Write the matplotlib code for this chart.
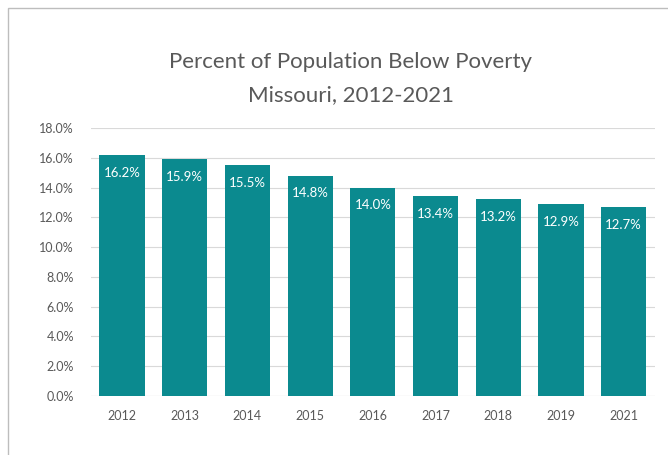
import matplotlib
matplotlib.use("Agg")
import matplotlib.pyplot as plt
from matplotlib.patches import Rectangle
from matplotlib.ticker import FuncFormatter

years = ["2012", "2013", "2014", "2015", "2016", "2017", "2018", "2019", "2021"]
values = [16.2, 15.9, 15.5, 14.8, 14.0, 13.4, 13.2, 12.9, 12.7]
yticks = [0, 2, 4, 6, 8, 10, 12, 14, 16, 18]

W, H = 668, 455
fig = plt.figure(figsize=(W / 100, H / 100), dpi=100)
plt.rcParams['font.family'] = ['Lato', 'DejaVu Sans']

# outer frame
fig.patches.append(Rectangle((8 / W, -0.1), 1.2, 1 - 8 / H + 0.1, transform=fig.transFigure,
                             fill=False, edgecolor='#BDBDBD', linewidth=1.0))

left, right = 90.6 / W, 655 / W
bottom, top = 1 - 396 / H, 1 - 128 / H
ax = fig.add_axes([left, bottom, right - left, top - bottom])

color = '#0B8A8F'
x = range(len(years))
bars = ax.bar(x, values, width=0.72, color=color, zorder=3)
for xi, v in zip(x, values):
    ax.annotate(f"{v:.1f}%", (xi, v), xytext=(0, -8.5), textcoords='offset points',
                ha='center', va='top', color='white', fontsize=9.5, zorder=4)

ax.set_ylim(0, 18)
ax.set_xlim(-0.5, len(years) - 0.5)
ax.set_yticks(yticks)
ax.yaxis.set_major_formatter(FuncFormatter(lambda v, p: f"{v:.1f}%"))
ax.set_xticks(list(x))
ax.set_xticklabels(years)
ax.tick_params(axis='both', length=0, labelsize=9, labelcolor='#595959')
ax.tick_params(axis='y', pad=12)
ax.tick_params(axis='x', pad=10)
ax.grid(axis='y', color='#D9D9D9', linewidth=0.8, zorder=0)
for s in ax.spines.values():
    s.set_visible(False)
ax.axhline(0, color='#D9D9D9', linewidth=0.8, zorder=2)

fig.text(351 / W, 1 - 62 / H, "Percent of Population Below Poverty", ha='center', va='center',
         fontsize=16, color='#595959')
fig.text(351 / W, 1 - 95 / H, "Missouri, 2012-2021", ha='center', va='center',
         fontsize=16, color='#595959')

fig.savefig("out.png", dpi=100)
